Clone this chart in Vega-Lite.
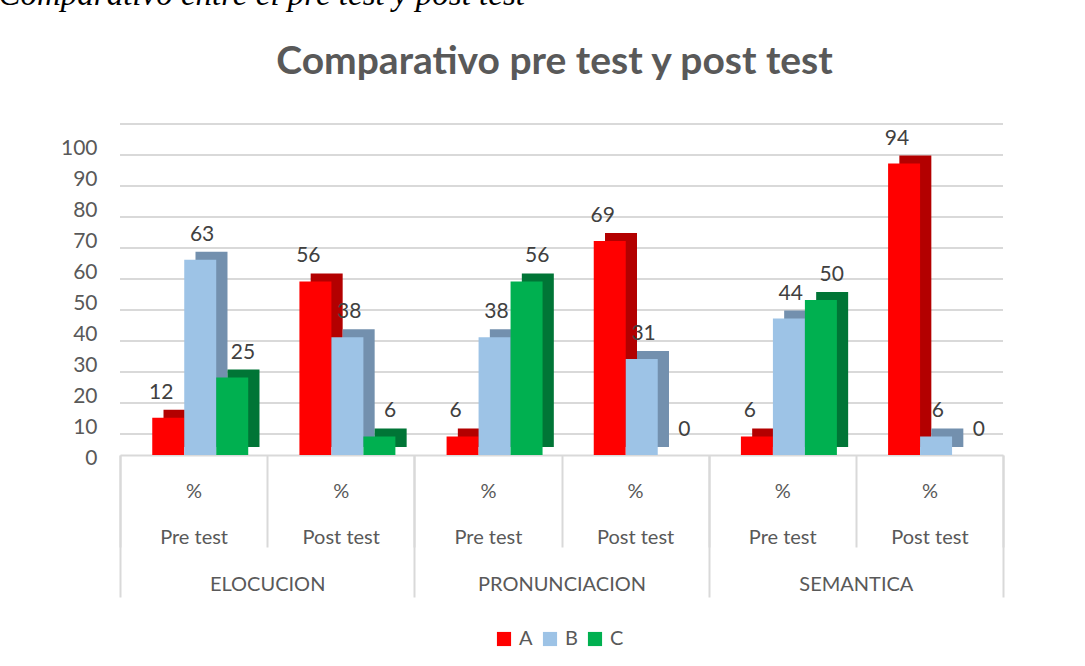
{
  "$schema": "https://vega.github.io/schema/vega-lite/v6.json",
  "width": 883,
  "height": 310,
  "autosize": {"type": "none"},
  "padding": {"left": 120, "top": 145, "right": 82, "bottom": 211},
  "background": "white",
  "config": {"view": {"stroke": null}, "font": "Lato"},
  "datasets": {
    "bars": [
      {"group": "ELOCUCION", "test": "Pre test", "slot": "ELOCUCION|Pre test", "series": "A", "value": 12},
      {"group": "ELOCUCION", "test": "Pre test", "slot": "ELOCUCION|Pre test", "series": "B", "value": 63},
      {"group": "ELOCUCION", "test": "Pre test", "slot": "ELOCUCION|Pre test", "series": "C", "value": 25},
      {"group": "ELOCUCION", "test": "Post test", "slot": "ELOCUCION|Post test", "series": "A", "value": 56},
      {"group": "ELOCUCION", "test": "Post test", "slot": "ELOCUCION|Post test", "series": "B", "value": 38},
      {"group": "ELOCUCION", "test": "Post test", "slot": "ELOCUCION|Post test", "series": "C", "value": 6},
      {"group": "PRONUNCIACION", "test": "Pre test", "slot": "PRONUNCIACION|Pre test", "series": "A", "value": 6},
      {"group": "PRONUNCIACION", "test": "Pre test", "slot": "PRONUNCIACION|Pre test", "series": "B", "value": 38},
      {"group": "PRONUNCIACION", "test": "Pre test", "slot": "PRONUNCIACION|Pre test", "series": "C", "value": 56},
      {"group": "PRONUNCIACION", "test": "Post test", "slot": "PRONUNCIACION|Post test", "series": "A", "value": 69},
      {"group": "PRONUNCIACION", "test": "Post test", "slot": "PRONUNCIACION|Post test", "series": "B", "value": 31},
      {"group": "PRONUNCIACION", "test": "Post test", "slot": "PRONUNCIACION|Post test", "series": "C", "value": 0},
      {"group": "SEMANTICA", "test": "Pre test", "slot": "SEMANTICA|Pre test", "series": "A", "value": 6},
      {"group": "SEMANTICA", "test": "Pre test", "slot": "SEMANTICA|Pre test", "series": "B", "value": 44},
      {"group": "SEMANTICA", "test": "Pre test", "slot": "SEMANTICA|Pre test", "series": "C", "value": 50},
      {"group": "SEMANTICA", "test": "Post test", "slot": "SEMANTICA|Post test", "series": "A", "value": 94},
      {"group": "SEMANTICA", "test": "Post test", "slot": "SEMANTICA|Post test", "series": "B", "value": 6},
      {"group": "SEMANTICA", "test": "Post test", "slot": "SEMANTICA|Post test", "series": "C", "value": 0}
    ],
    "grid": [
      {"v": 0}, {"v": 10}, {"v": 20}, {"v": 30}, {"v": 40}, {"v": 50},
      {"v": 60}, {"v": 70}, {"v": 80}, {"v": 90}, {"v": 100}
    ],
    "groups": [
      {"group": "ELOCUCION"}, {"group": "PRONUNCIACION"}, {"group": "SEMANTICA"}
    ]
  },
  "layer": [
    {
      "data": {"name": "grid"},
      "mark": {"type": "rule", "color": "#D9D9D9", "strokeWidth": 2},
      "encoding": {
        "y": {"field": "v", "type": "quantitative", "scale": {"domain": [-6.8, 93.2], "nice": false, "zero": false}, "axis": null}
      }
    },
    {
      "data": {"name": "groups"},
      "mark": {"type": "rule", "opacity": 0},
      "encoding": {
        "x": {
          "field": "group", "type": "nominal",
          "scale": {"domain": ["ELOCUCION", "PRONUNCIACION", "SEMANTICA"], "paddingInner": 0, "paddingOuter": 0},
          "axis": {
            "orient": "bottom", "title": null, "labelAngle": 0, "labelFontSize": 20, "labelColor": "#595959",
            "tickBand": "extent", "tickSize": 142, "tickColor": "#D9D9D9", "tickWidth": 2, "domain": false,
            "labelPadding": -7, "labelBaseline": "alphabetic"
          }
        }
      }
    },
    {
      "data": {"name": "groups"},
      "mark": {"type": "rule", "opacity": 0},
      "encoding": {
        "x": {
          "field": "group", "type": "nominal",
          "scale": {"domain": ["ELOCUCION", "PRONUNCIACION", "SEMANTICA"], "paddingInner": 0, "paddingOuter": 0},
          "axis": {
            "orient": "top", "labels": false, "ticks": false, "domain": false, "grid": false,
            "title": "Comparativo pre test y post test", "titleFont": "Lato", "titleFontWeight": "bold",
            "titleFontSize": 39, "titleColor": "#595959", "titleX": 434, "titleY": -72,
            "titleBaseline": "alphabetic", "titleAlign": "center", "titleAngle": 0
          }
        }
      }
    },
    {
      "data": {"name": "bars"},
      "encoding": {
        "x": {
          "field": "slot", "type": "nominal",
          "scale": {"domain": ["ELOCUCION|Pre test", "ELOCUCION|Post test", "PRONUNCIACION|Pre test", "PRONUNCIACION|Post test", "SEMANTICA|Pre test", "SEMANTICA|Post test"], "paddingInner": 0, "paddingOuter": 0},
          "axis": {
            "orient": "bottom", "title": null, "labelAngle": 0,
            "labelExpr": "datum.label && indexof(datum.label, '|') >= 0 ? ['%', split(datum.label, '|')[1]] : ''",
            "labelLineHeight": 46, "labelBaseline": "alphabetic", "labelPadding": -50,
            "labelFontSize": 20, "labelColor": "#595959", "labelOverlap": false, "labelBound": false,
            "tickBand": "extent", "tickSize": 92, "tickColor": "#D9D9D9", "tickWidth": 2,
            "domainColor": "#D9D9D9", "domainWidth": 2
          }
        },
        "xOffset": {
          "field": "series", "type": "nominal",
          "scale": {"domain": ["A", "B", "C"], "paddingInner": 0, "paddingOuter": 0.8, "align": 0.63}
        },
        "y": {
          "field": "value", "type": "quantitative",
          "scale": {"domain": [0, 100], "nice": false},
          "axis": {
            "values": [0, 10, 20, 30, 40, 50, 60, 70, 80, 90, 100],
            "grid": false, "domain": false, "ticks": false, "labelPadding": 23, "labelOffset": 3,
            "labelFontSize": 21, "labelColor": "#595959",
            "title": "Comparativo entre el pre test y post test", "titleAngle": 0, "titleAlign": "left",
            "titleBaseline": "alphabetic", "titleX": -122, "titleY": -141,
            "titleFont": "Liberation Serif", "titleFontStyle": "italic", "titleFontWeight": "normal",
            "titleFontSize": 33, "titleColor": "#000000"
          }
        }
      },
      "layer": [
        {
          "mark": {"type": "bar", "yOffset": -8},
          "encoding": {
            "xOffset": {
              "field": "series", "type": "nominal",
              "scale": {"domain": ["A", "B", "C"], "paddingInner": 0, "paddingOuter": 0.8, "align": 0.85}
            },
            "color": {"field": "series", "type": "nominal", "scale": {"domain": ["A", "B", "C"], "range": ["#B30000", "#7390AE", "#007536"]}, "legend": null}
          }
        },
        {
          "mark": {"type": "bar"},
          "encoding": {
            "color": {
              "field": "series", "type": "nominal",
              "scale": {"domain": ["A", "B", "C"], "range": ["#FF0000", "#9DC3E6", "#00B050"]},
              "legend": {
                "orient": "none", "legendX": 374, "legendY": 484, "direction": "horizontal", "title": null, "symbolType": "square",
                "symbolSize": 200, "symbolStrokeWidth": 0, "labelFontSize": 20, "labelColor": "#595959",
                "columnPadding": 7, "labelOffset": 5
              }
            }
          }
        },
        {
          "mark": {"type": "text", "dy": -25, "fontSize": 21, "color": "#404040", "baseline": "middle"},
          "encoding": {"text": {"field": "value", "type": "quantitative"}}
        }
      ],
      "resolve": {"scale": {"xOffset": "independent", "color": "independent"}, "legend": {"color": "independent"}}
    }
  ],
  "resolve": {
    "scale": {"x": "independent", "y": "independent"},
    "axis": {"x": "independent", "y": "independent"}
  }
}
